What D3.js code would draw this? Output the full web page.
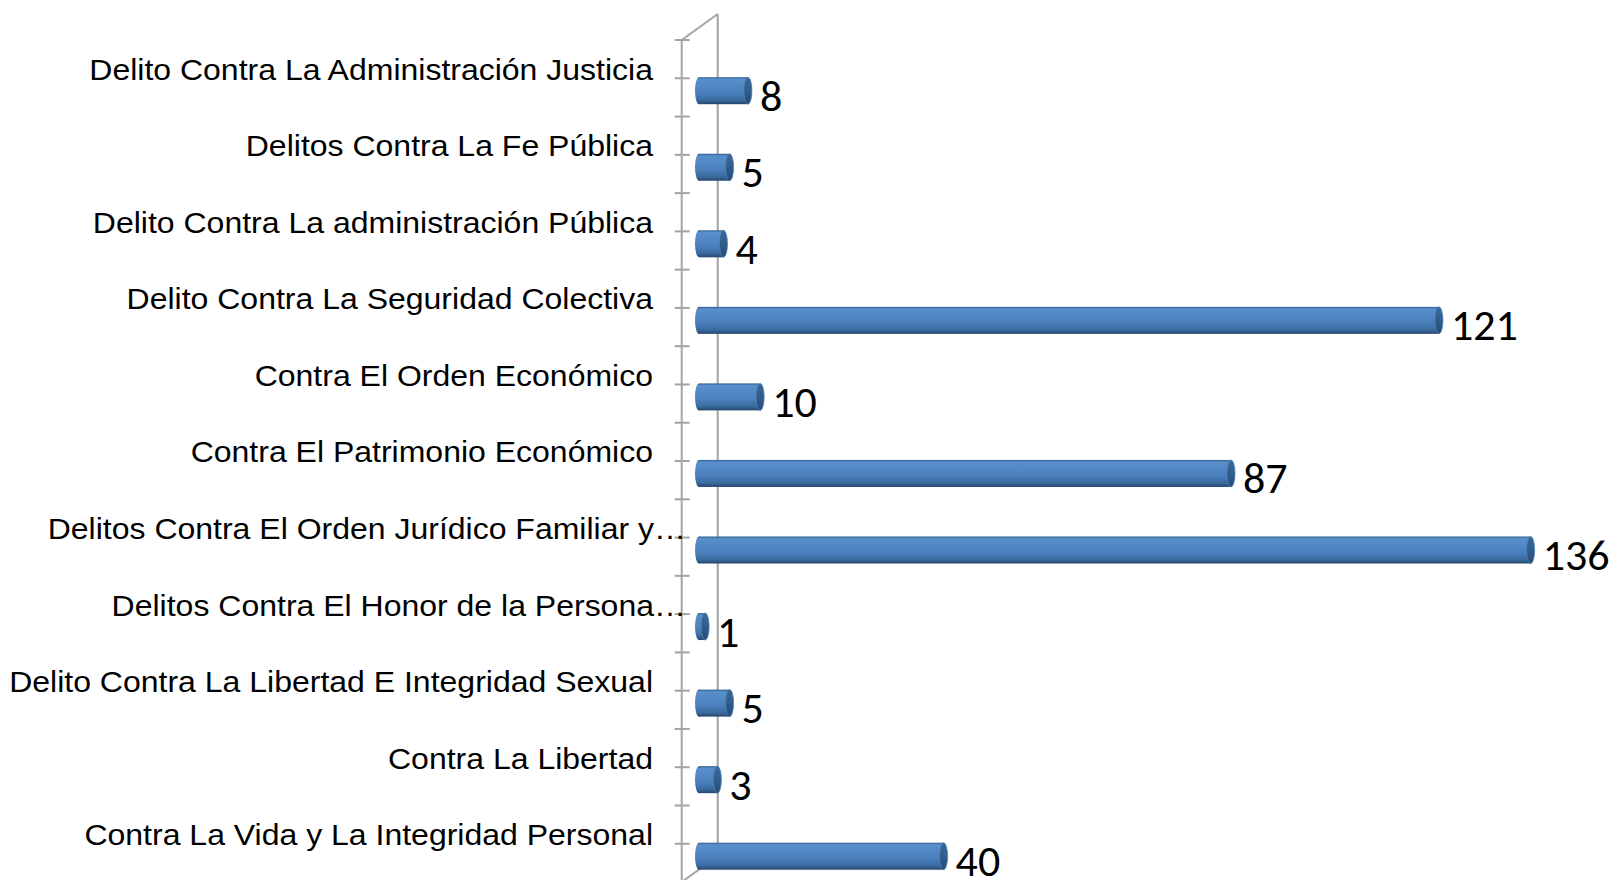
<!DOCTYPE html>
<html>
<head>
<meta charset="utf-8">
<script src="https://cdn.jsdelivr.net/npm/d3@7"></script>
<style>
  body { margin: 0; background: #fff; }
  svg { display: block; }
</style>
</head>
<body>
<svg id="chart" width="1617" height="880"></svg>
<script>
// categories top to bottom
let categories = [
    'Delito Contra La Administración Justicia',
    'Delitos Contra La Fe Pública',
    'Delito Contra La administración Pública',
    'Delito Contra La Seguridad Colectiva',
    'Contra El Orden Económico',
    'Contra El Patrimonio Económico',
    'Delitos Contra El Orden Jurídico Familiar y…',
    'Delitos Contra El Honor de la Persona…',
    'Delito Contra La Libertad E Integridad Sexual',
    'Contra La Libertad',
    'Contra La Vida y La Integridad Personal'
];
let values = [8, 5, 4, 121, 10, 87, 136, 1, 5, 3, 40];
let xDomain = [0, 140];

let svg = d3.select('#chart');

let x = d3.scaleLinear().domain(xDomain).range([699, 699 + 140 * 6.115]);
let y = d3.scalePoint().domain(categories).range([90.7, 856.2]);
let step = y.step();
let barH = 27;
let capRx = 4;

// 3d depth offset of the wall
let dx = 36, dy = -26;
let frontX = 681.7;
let topY = y(categories[0]) - 50.7;
let botY = y(categories[categories.length - 1]) - 50.7 + step;

let defs = svg.append('defs');
let grad = defs.append('linearGradient').attr('id', 'cyl')
    .attr('x1', 0).attr('y1', 0).attr('x2', 0).attr('y2', 1);
[['0%', '#2f5f92'], ['8%', '#5a8fcb'], ['30%', '#5189c6'], ['60%', '#4a7fbb'],
 ['85%', '#3a6a9f'], ['100%', '#24466d']].forEach(s => {
    grad.append('stop').attr('offset', s[0]).attr('stop-color', s[1]);
});
let capGrad = defs.append('linearGradient').attr('id', 'cap')
    .attr('x1', 0).attr('y1', 0).attr('x2', 0).attr('y2', 1);
[['0%', '#3a6898'], ['50%', '#2f5d8c'], ['100%', '#264c74']].forEach(s => {
    capGrad.append('stop').attr('offset', s[0]).attr('stop-color', s[1]);
});

let axisCol = '#a3a3a3';
let wall = svg.append('g').attr('stroke', axisCol).attr('stroke-width', 2).attr('fill', 'none');

// back wall edge, top diagonal, floor diagonal, front edge
wall.append('line').attr('x1', frontX + dx).attr('x2', frontX + dx).attr('y1', topY + dy).attr('y2', botY + dy);
wall.append('line').attr('x1', frontX).attr('x2', frontX + dx).attr('y1', topY).attr('y2', topY + dy);
wall.append('line').attr('x1', frontX).attr('x2', frontX + dx).attr('y1', botY).attr('y2', botY + dy);
wall.append('line').attr('x1', frontX).attr('x2', frontX).attr('y1', topY).attr('y2', botY);

// tick marks every half category
let ticks = d3.range(0, categories.length * 2 + 1).map(k => topY + k * step / 2);
wall.selectAll('.tk').data(ticks).enter().append('line')
    .attr('class', 'tk')
    .attr('x1', frontX - 7).attr('x2', frontX + 8)
    .attr('y1', d => d).attr('y2', d => d);

// bars as cylinders
let bars = svg.append('g').selectAll('g').data(values).enter().append('g');

bars.append('rect')
    .attr('x', x(0))
    .attr('y', (d, i) => y(categories[i]) - barH / 2)
    .attr('width', d => x(d) - x(0))
    .attr('height', barH)
    .attr('fill', 'url(#cyl)');

bars.append('ellipse')
    .attr('cx', x(0))
    .attr('cy', (d, i) => y(categories[i]))
    .attr('rx', capRx)
    .attr('ry', barH / 2)
    .attr('fill', 'url(#cyl)');

bars.append('ellipse')
    .attr('cx', d => x(d))
    .attr('cy', (d, i) => y(categories[i]))
    .attr('rx', capRx)
    .attr('ry', barH / 2)
    .attr('fill', 'url(#cap)')
    .attr('stroke', '#4d7fb5')
    .attr('stroke-width', 0.8);

// value labels
bars.append('text')
    .attr('x', d => x(d) + capRx + 8)
    .attr('y', (d, i) => y(categories[i]) + 20)
    .attr('font-family', 'Carlito, Calibri, Lato, sans-serif')
    .attr('font-size', 44)
    .attr('fill', '#000')
    .text(d => d);

// category labels, a little wider than the plain font
svg.append('g').selectAll('text').data(categories).enter().append('text')
    .attr('transform', d => 'translate(' + (d.endsWith('…') ? 686 : 653) + ',' + (y(d) - 11) + ') scale(1.085,1)')
    .attr('text-anchor', 'end')
    .style('font-family', "'Liberation Sans', Arial, sans-serif")
    .attr('font-size', 29.5)
    .attr('fill', '#000')
    .text(d => d);
</script>
</body>
</html>
